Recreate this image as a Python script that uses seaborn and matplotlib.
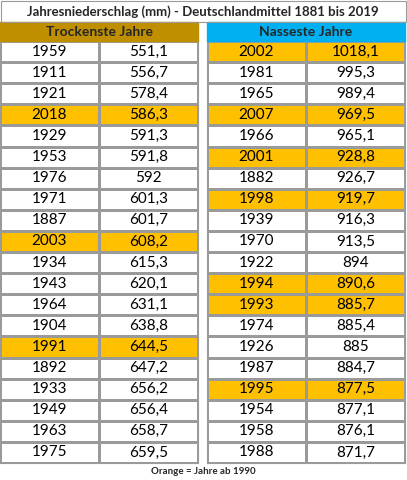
import matplotlib
matplotlib.use("Agg")
import matplotlib.pyplot as plt
import seaborn as sns
import numpy as np
from matplotlib.colors import ListedColormap
from matplotlib.patches import Rectangle

dry_years = [1959,1911,1921,2018,1929,1953,1976,1971,1887,2003,1934,1943,1964,1904,1991,1892,1933,1949,1963,1975]
dry_vals = ["551,1","556,7","578,4","586,3","591,3","591,8","592","601,3","601,7","608,2","615,3","620,1","631,1","638,8","644,5","647,2","656,2","656,4","658,7","659,5"]
wet_years = [2002,1981,1965,2007,1966,2001,1882,1998,1939,1970,1922,1994,1993,1974,1926,1987,1995,1954,1958,1988]
wet_vals = ["1018,1","995,3","989,4","969,5","965,1","928,8","926,7","919,7","916,3","913,5","894","890,6","885,7","885,4","885","884,7","877,5","877,1","876,1","871,7"]

sns.set_theme(style="white")
plt.rcParams['font.family'] = ['Lato', 'DejaVu Sans']
W, H = 407, 480
fig = plt.figure(figsize=(W/100, H/100), dpi=100)
cmap = ListedColormap(["#FFFFFF", "#FFC000"])

def px(x0, y0, x1, y1):
    return [x0/W, 1-y1/H, (x1-x0)/W, (y1-y0)/H]

def table(x0, x1, years, vals):
    ax = fig.add_axes(px(x0, 41, x1, 463))
    flag = np.array([[1 if y >= 1990 else 0]*2 for y in years])
    labels = np.array([[str(y), v] for y, v in zip(years, vals)])
    sns.heatmap(flag, ax=ax, cmap=cmap, vmin=0, vmax=1, cbar=False,
                annot=labels, fmt="", linewidths=0.8, linecolor="#9a9a9a",
                annot_kws={"fontsize": 11, "color": "black"},
                xticklabels=False, yticklabels=False)
    for s in ax.spines.values():
        s.set_visible(True); s.set_color("#9a9a9a"); s.set_linewidth(0.8)

table(0, 198, dry_years, dry_vals)
table(207, 405, wet_years, wet_vals)

ov = fig.add_axes([0, 0, 1, 1]); ov.set_xlim(0, W); ov.set_ylim(H, 0); ov.axis("off")
ov.add_patch(Rectangle((0, 22), 198, 19, color="#BF8F00"))
ov.add_patch(Rectangle((207, 22), 198, 19, color="#00B0F0"))
ov.add_patch(Rectangle((0.5, 0.5), 405, 21.5, fill=False, ec="#9a9a9a", lw=0.8))
ov.text(203, 12, "Jahresniederschlag (mm) - Deutschlandmittel 1881 bis 2019", ha="center", va="center", fontsize=9.5, fontweight="bold")
ov.text(99, 32, "Trockenste Jahre", ha="center", va="center", fontsize=10, fontweight="bold")
ov.text(306, 32, "Nasseste Jahre", ha="center", va="center", fontsize=10, fontweight="bold")
ov.text(203, 472, "Orange = Jahre ab 1990", ha="center", va="center", fontsize=7, fontweight="bold")
fig.savefig("out.png", dpi=100)
